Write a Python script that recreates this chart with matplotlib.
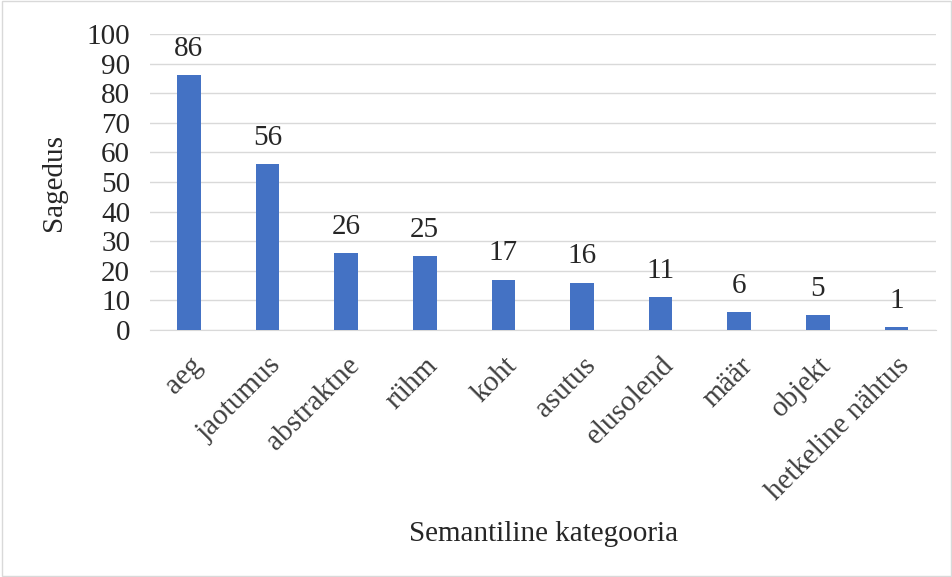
import matplotlib
matplotlib.use("Agg")
import matplotlib.pyplot as plt
from matplotlib.patches import Rectangle

kategooriad = ["aeg", "jaotumus", "abstraktne", "rühm", "koht", "asutus",
               "elusolend", "määr", "objekt", "hetkeline nähtus"]
sagedus = [86, 56, 26, 25, 17, 16, 11, 6, 5, 1]

plt.rcParams['font.family'] = ['Liberation Serif', 'DejaVu Serif']
fs = 21

fig = plt.figure(figsize=(9.53, 5.77), dpi=100)
ax = fig.add_axes([0.157, 0.428, 0.825, 0.513])

x = range(len(kategooriad))
ax.bar(x, sagedus, width=0.3, color="#4472C4", zorder=3)
for xi, v in zip(x, sagedus):
    ax.text(xi, v + 4.5, str(v), ha="center", va="bottom", fontsize=fs, color="#262626")

ax.set_xlim(-0.5, len(kategooriad) - 0.5)
ax.set_ylim(0, 100)
ax.set_yticks(range(0, 101, 10))
ax.tick_params(axis="y", labelsize=fs, length=0, colors="#262626", pad=14)
ax.set_xticks(list(x))
ax.set_xticklabels(kategooriad, rotation=45, ha="right", rotation_mode="anchor",
                   fontsize=fs, color="#404040")
ax.tick_params(axis="x", length=0, pad=16)
ax.grid(axis="y", color="#d9d9d9", linewidth=1, zorder=0)
for s in ["top", "right", "left"]:
    ax.spines[s].set_visible(False)
ax.spines["bottom"].set_color("#d9d9d9")

ax.set_ylabel("Sagedus", fontsize=fs, color="#262626", labelpad=14)
fig.text(0.57, 0.075, "Semantiline kategooria", ha="center", va="center",
         fontsize=fs, color="#262626")

fig.patches.append(Rectangle((0.002, 0.002), 0.996, 0.996, transform=fig.transFigure,
                             fill=False, edgecolor="#d9d9d9", linewidth=1))

fig.savefig("out.png", dpi=100)
